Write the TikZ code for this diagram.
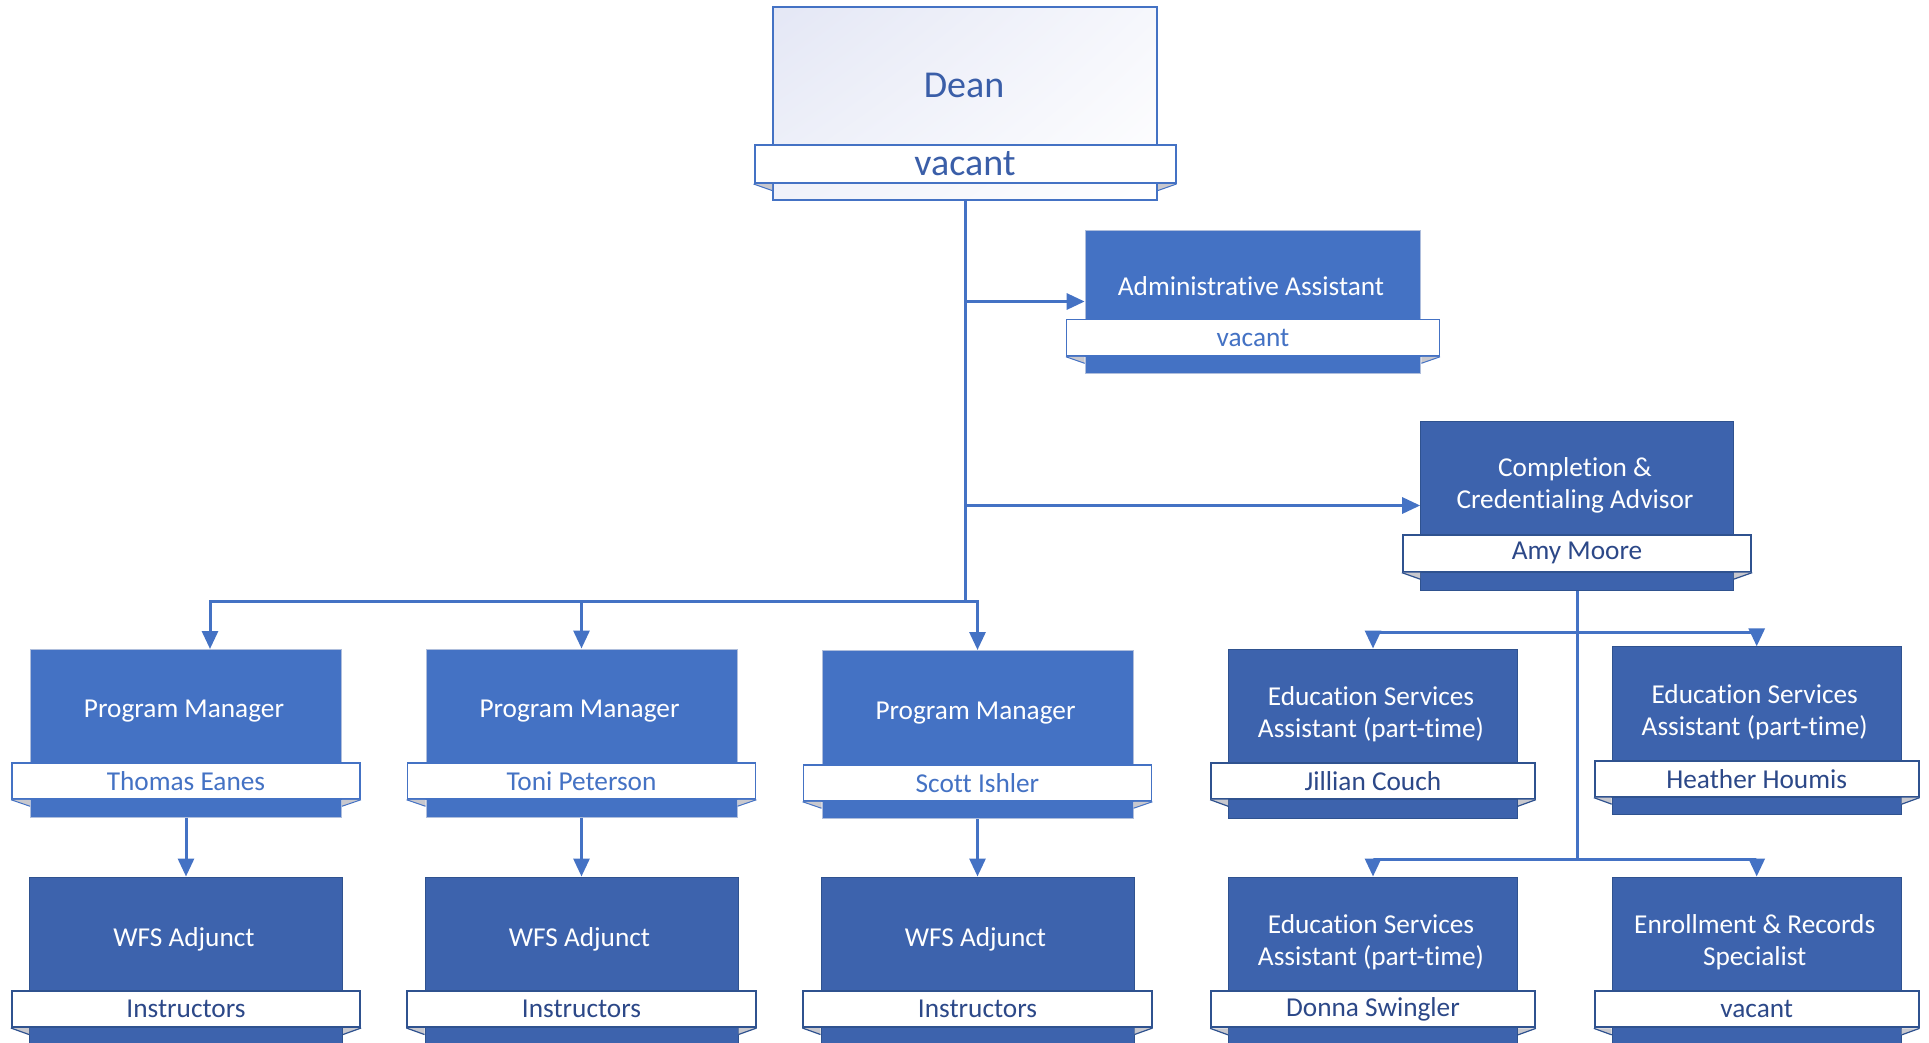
\documentclass[tikz,border=0pt]{standalone}
\usepackage{fontspec}
\setmainfont{Carlito}[Ligatures={NoCommon}]
\usetikzlibrary{arrows.meta,shadings}
\definecolor{lightfill}{RGB}{68,114,196}
\definecolor{darkfill}{RGB}{61,99,173}
\definecolor{lightedge}{RGB}{175,190,220}
\definecolor{darkedge}{RGB}{47,82,143}
\definecolor{connector}{RGB}{68,114,196}
\definecolor{lightname}{RGB}{68,114,196}
\definecolor{darkname}{RGB}{44,72,136}
\definecolor{deantext}{RGB}{58,94,168}
\definecolor{foldgray}{RGB}{200,200,206}
\definecolor{deanUL}{RGB}{228,231,245}
\definecolor{deanUR}{RGB}{246,247,252}
\definecolor{deanLL}{RGB}{240,242,250}
\newcommand{\drawfolds}[3]{%
  \fill[foldgray] (#2.south west) -- (#1.west |- #2.south) -- ++(0,6.5) -- cycle;
  \draw[#3] (#1.west |- #2.south) ++(0,6.5) -- (#2.south west);
  \fill[foldgray] (#2.south east) -- (#1.east |- #2.south) -- ++(0,6.5) -- cycle;
  \draw[#3] (#1.east |- #2.south) ++(0,6.5) -- (#2.south east);
}
\tikzset{
  unitL/.style={rectangle, fill=lightfill, draw=lightedge, line width=1pt, inner sep=0pt},
  unitD/.style={rectangle, fill=darkfill, draw=darkedge, line width=1pt, inner sep=0pt},
  titletext/.style={text=white, font=\fontsize{27.3}{32}\selectfont, align=center, inner sep=0pt},
  barL/.style={rectangle, fill=white, draw=lightfill, line width=1.5pt, text=lightname, font=\fontsize{27.3}{32}\selectfont, inner sep=0pt},
  barD/.style={rectangle, fill=white, draw=darkedge, line width=2pt, text=darkname, font=\fontsize{27.3}{32}\selectfont, inner sep=0pt},
  foldL/.style={draw=lightfill, line width=1pt},
  foldD/.style={draw=darkedge, line width=1.2pt},
  conn/.style={draw=connector, line width=3pt},
  arr/.style={conn, -{Triangle[length=18pt,width=16pt]}},
}
\begin{document}
\begin{tikzpicture}[x=1pt,y=-1pt]
\useasboundingbox (0,0) rectangle (1929,1042);
\begin{scope}
\clip (0,0) rectangle (1929,1042);
% ---------- Dean ----------
\node[rectangle, draw=lightfill, line width=2pt, inner sep=0pt,
      upper left=deanUL, upper right=deanUR, lower left=deanLL, lower right=white,
      minimum width=384pt, minimum height=193pt] (dean) at (965,103.5) {};
\node[text=deantext, font=\fontsize{38}{40}\selectfont, inner sep=0pt] (deant) at (964,85) {Dean};
\node[rectangle, fill=white, draw=lightfill, line width=2pt, text=deantext,
      font=\fontsize{38}{40}\selectfont, inner sep=0pt,
      minimum width=421pt, minimum height=38pt] (deann) at (965,164) {vacant};
\drawfolds{dean}{deann}{foldL}

% ---------- Administrative Assistant ----------
\node[unitL, minimum width=335.7pt, minimum height=143pt] (admin) at (1253,301.5) {};
\node[titletext] (admint) at (1251,286) {Administrative Assistant};
\node[barL, minimum width=372.6pt, minimum height=36.7pt] (adminn) at (1253,337.7) {vacant};
\drawfolds{admin}{adminn}{foldL}

% ---------- Completion ----------
\node[unitD, minimum width=312.6pt, minimum height=169pt] (comp) at (1577,505.5) {};
\node[titletext] (compt) at (1575,485) {Completion \&\\Credentialing Advisor};
\node[barD, minimum width=348.3pt, minimum height=36.7pt] (compn) at (1577,553.3) {Amy Moore};
\drawfolds{comp}{compn}{foldD}

% ---------- Program Managers ----------
\node[unitL, minimum width=311pt, minimum height=168pt] (pm1) at (186,733) {};
\node[titletext] (pm1t) at (184,711.5) {Program Manager};
\node[barL, minimum width=348.3pt, minimum height=36pt] (pm1n) at (186,781) {Thomas Eanes};
\drawfolds{pm1}{pm1n}{foldL}

\node[unitL, minimum width=311pt, minimum height=168pt] (pm2) at (581.5,733) {};
\node[titletext] (pm2t) at (579.5,711.5) {Program Manager};
\node[barL, minimum width=348.3pt, minimum height=36pt] (pm2n) at (581.5,781) {Toni Peterson};
\drawfolds{pm2}{pm2n}{foldL}

\node[unitL, minimum width=311pt, minimum height=168pt] (pm3) at (977.5,734.5) {};
\node[titletext] (pm3t) at (975.5,713) {Program Manager};
\node[barL, minimum width=348.3pt, minimum height=36pt] (pm3n) at (977.5,783) {Scott Ishler};
\drawfolds{pm3}{pm3n}{foldL}

% ---------- WFS Adjunct ----------
\node[unitD, minimum width=313pt, minimum height=170pt] (wfs1) at (186,962) {};
\node[titletext] (wfs1t) at (184,939) {WFS Adjunct};
\node[barD, minimum width=348.3pt, minimum height=36pt] (wfs1n) at (186,1009) {Instructors};
\drawfolds{wfs1}{wfs1n}{foldD}

\node[unitD, minimum width=313pt, minimum height=170pt] (wfs2) at (581.5,962) {};
\node[titletext] (wfs2t) at (579.5,939) {WFS Adjunct};
\node[barD, minimum width=348.3pt, minimum height=36pt] (wfs2n) at (581.5,1009) {Instructors};
\drawfolds{wfs2}{wfs2n}{foldD}

\node[unitD, minimum width=313pt, minimum height=170pt] (wfs3) at (977.5,962) {};
\node[titletext] (wfs3t) at (975.5,939) {WFS Adjunct};
\node[barD, minimum width=348.3pt, minimum height=36pt] (wfs3n) at (977.5,1009) {Instructors};
\drawfolds{wfs3}{wfs3n}{foldD}

% ---------- Education services ----------
\node[unitD, minimum width=289pt, minimum height=169pt] (es1) at (1373,733.5) {};
\node[titletext] (es1t) at (1371,714) {Education Services\\Assistant (part-time)};
\node[barD, minimum width=323.7pt, minimum height=35.4pt] (es1n) at (1373,781) {Jillian Couch};
\drawfolds{es1}{es1n}{foldD}

\node[unitD, minimum width=289pt, minimum height=168pt] (es2) at (1756.7,730.8) {};
\node[titletext] (es2t) at (1754.7,712.5) {Education Services\\Assistant (part-time)};
\node[barD, minimum width=323.7pt, minimum height=35.7pt] (es2n) at (1756.7,778.8) {Heather Houmis};
\drawfolds{es2}{es2n}{foldD}

\node[unitD, minimum width=289pt, minimum height=170pt] (es3) at (1373,962) {};
\node[titletext] (es3t) at (1371,942.5) {Education Services\\Assistant (part-time)};
\node[barD, minimum width=323.7pt, minimum height=36.3pt] (es3n) at (1373,1009.2) {Donna Swingler};
\drawfolds{es3}{es3n}{foldD}

\node[unitD, minimum width=289pt, minimum height=170pt] (er) at (1756.7,962) {};
\node[titletext] (ert) at (1754.7,942.5) {Enrollment \& Records\\Specialist};
\node[barD, minimum width=323.7pt, minimum height=36.3pt] (ern) at (1756.7,1009.2) {vacant};
\drawfolds{er}{ern}{foldD}

% ---------- Connectors ----------
\coordinate (j1) at (965,601.5);
\coordinate (pm1top) at (210,649);
\coordinate (j2) at (1577,632);
\coordinate (j3) at (1577,859.3);

\draw[conn] (dean.south) -- (j1);
\draw[arr] (dean.south |- admin.west) -- (admin.west);
\draw[arr] (dean.south |- comp.west) -- (comp.west);
\draw[arr] (j1) -| (pm1top);
\draw[arr] (j1) -| (pm2.north);
\draw[arr] (j1) -| (pm3.north);

\draw[arr] (pm1.south) -- (pm1.south |- wfs1.north);
\draw[arr] (pm2.south) -- (pm2.south |- wfs2.north);
\draw[arr] (pm3.south) -- (pm3.south |- wfs3.north);

\draw[conn] (comp.south) -- (j3);
\draw[arr] (j2) -| (es1.north);
\draw[arr] (j2) -| (es2.north);
\draw[arr] (j3) -| (es3.north);
\draw[arr] (j3) -| (er.north);
\end{scope}
\end{tikzpicture}
\end{document}
